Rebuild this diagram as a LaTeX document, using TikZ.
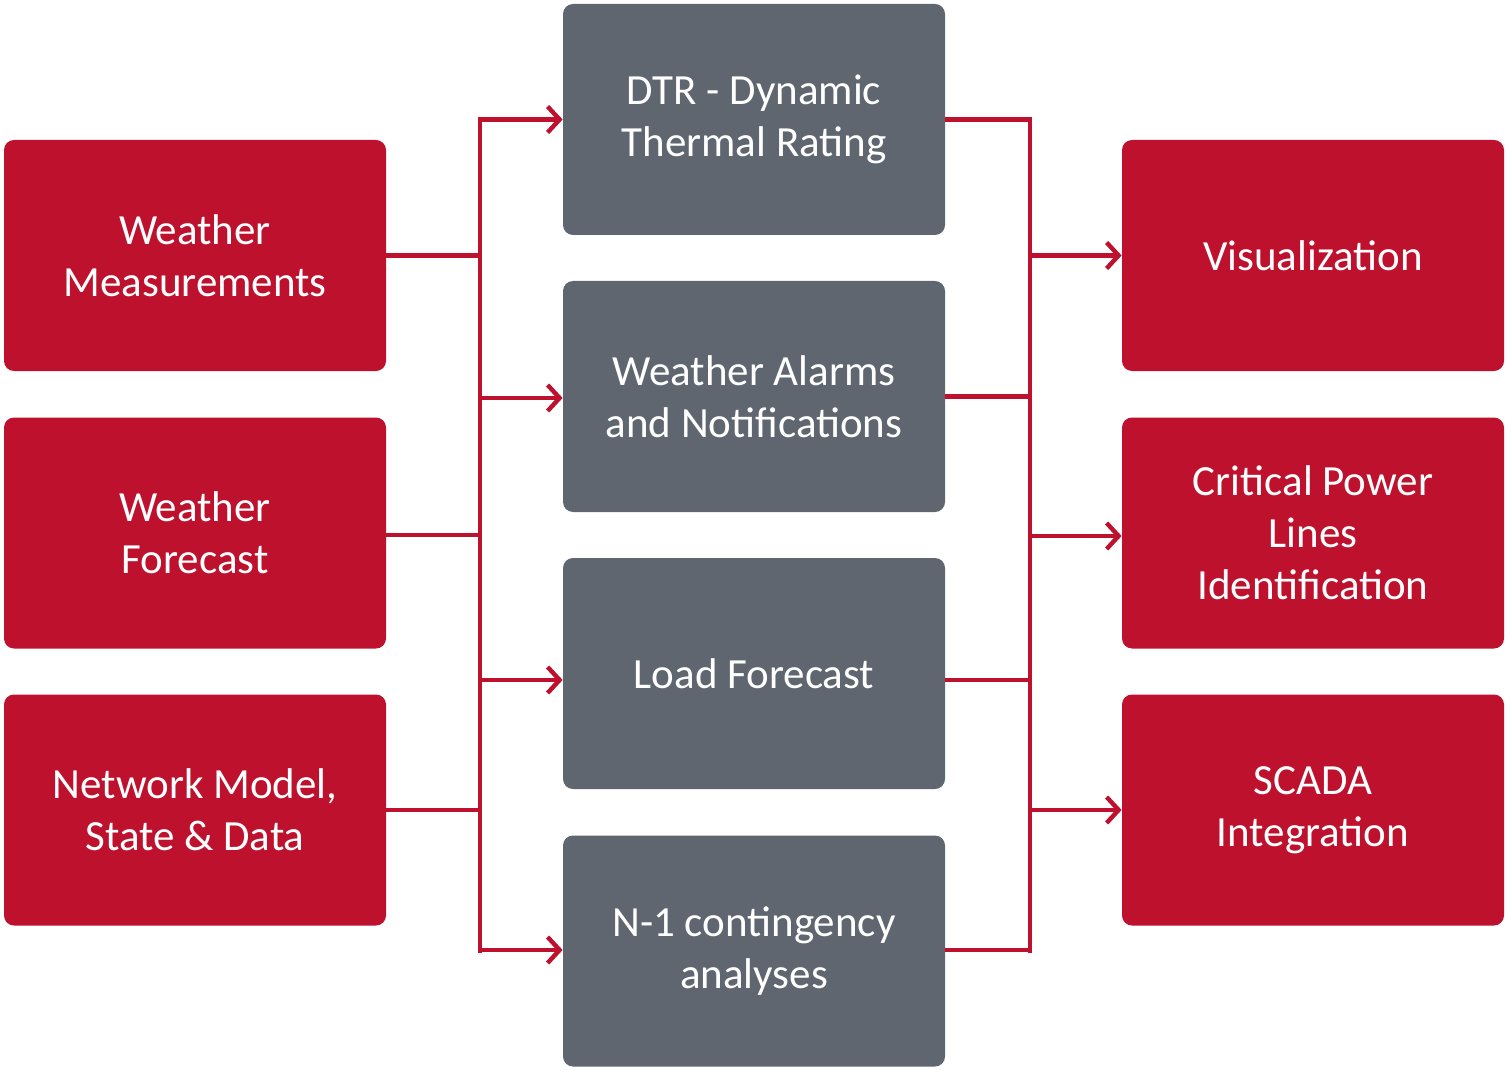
\documentclass[tikz,border=0pt]{standalone}
\usepackage{fontspec}
\setmainfont{Carlito}
\usetikzlibrary{arrows.meta}
\definecolor{dtrred}{RGB}{190,17,45}
\definecolor{dtrgray}{RGB}{95,102,112}

\begin{document}
\begin{tikzpicture}[
	x=0.5pt, y=-0.5pt,
	box/.style = {minimum width=191pt, minimum height=115.5pt, rounded corners=5pt, inner sep=0pt,
		      text=white, align=center, font=\fontsize{21.5}{26}\selectfont},
	redbox/.style = {box, fill=dtrred},
	graybox/.style = {box, fill=dtrgray},
	link/.style = {draw=dtrred, line width=2.2pt},
	feed/.style = {link, -{Straight Barb[length=6pt, width=13pt, line width=2.2pt]}},
]
	\useasboundingbox (0,0) rectangle (1507,1069);

	% sources
	\node [redbox] (meas) at (195,255.5) {Weather\\Measurements};
	\node [redbox] (fcst) at (195,533) {Weather\\Forecast};
	\node [redbox] (net)  at (195,810) {Network Model,\\State \& Data};

	% services
	\node [graybox] (dtr)   at (754,119.5) {DTR - Dynamic\\Thermal Rating};
	\node [graybox] (alarm) at (754,396.5) {Weather Alarms\\and Notifications};
	\node [graybox] (load)  at (754,673.5) {Load Forecast};
	\node [graybox] (nmin)  at (754,951)   {N-1 contingency\\analyses};

	% outputs
	\node [redbox] (vis)   at (1313,255.5) {Visualization};
	\node [redbox] (crit)  at (1313,533)   {Critical Power\\Lines\\Identification};
	\node [redbox] (scada) at (1313,810)   {SCADA\\Integration};

	\coordinate (lbus) at (480,0);
	\coordinate (rbus) at (1030,0);

	\foreach \n/\dy in {meas/0, fcst/-1, net/0}{%
		\draw [link] ([yshift=\dy pt]\n.east) -- ([yshift=\dy pt]\n.east -| lbus);
	}
	\draw [link, line cap=rect] (lbus |- dtr) -- (lbus |- nmin);
	\foreach \n/\dy in {dtr/0, alarm/-0.75, load/-3.25, nmin/0.5}{%
		\draw [feed] ([yshift=\dy pt]lbus |- \n) -- ([yshift=\dy pt]\n.west);
	}

	\foreach \n/\dy in {dtr/0, alarm/0, load/-3.25, nmin/0.5}{%
		\draw [link] ([yshift=\dy pt]\n.east) -- ([yshift=\dy pt]\n.east -| rbus);
	}
	\draw [link, line cap=rect] (rbus |- dtr) -- (rbus |- nmin);
	\foreach \n/\dy in {vis/0, crit/-1.5, scada/0}{%
		\draw [feed] ([yshift=\dy pt]rbus |- \n) -- ([yshift=\dy pt]\n.west);
	}
\end{tikzpicture}
\end{document}
